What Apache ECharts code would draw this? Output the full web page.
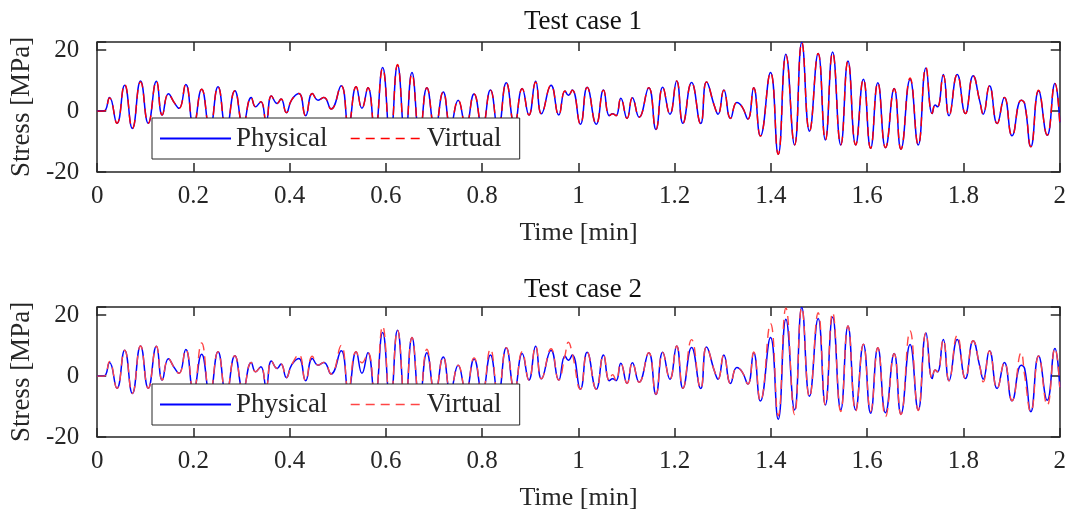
<!DOCTYPE html>
<html><head><meta charset="utf-8">
<script src="https://cdn.jsdelivr.net/npm/echarts@6/dist/echarts.min.js"></script>
<style>html,body{margin:0;padding:0;background:#fff}#c{width:1069px;height:515px}</style>
</head><body><div id="c"></div>
<script>
// Time [min] of each sample (peaks, troughs and shoulders)
const time = [0, 0.014, 0.0255, 0.041, 0.057, 0.073, 0.090, 0.106, 0.123, 0.135,
 0.148, 0.160, 0.170, 0.184, 0.200, 0.217, 0.234, 0.251, 0.268, 0.286,
 0.303, 0.320, 0.329, 0.340, 0.351, 0.362, 0.374, 0.382, 0.393, 0.404,
 0.419, 0.433, 0.447, 0.459, 0.471, 0.486, 0.507, 0.522, 0.538, 0.550,
 0.5625, 0.577, 0.593, 0.609, 0.624, 0.640, 0.654, 0.670, 0.685, 0.702,
 0.719, 0.734, 0.750, 0.766, 0.783, 0.800, 0.817, 0.833, 0.850, 0.867,
 0.883, 0.897, 0.911, 0.923, 0.943, 0.959, 0.972, 0.979, 0.987, 1.004,
 1.018, 1.037, 1.052, 1.064, 1.071, 1.078, 1.088, 1.101, 1.112, 1.126,
 1.146, 1.161, 1.175, 1.190, 1.204, 1.217, 1.235, 1.254, 1.266, 1.283,
 1.290, 1.302, 1.316, 1.329, 1.340, 1.352, 1.364, 1.378, 1.399, 1.415,
 1.431, 1.449, 1.464, 1.480, 1.498, 1.513, 1.528, 1.545, 1.560, 1.576,
 1.592, 1.607, 1.622, 1.638, 1.656, 1.670, 1.689, 1.706, 1.722, 1.735,
 1.741, 1.746, 1.758, 1.770, 1.787, 1.804, 1.820, 1.834, 1.841, 1.854,
 1.870, 1.885, 1.901, 1.920, 1.927, 1.940, 1.956, 1.974, 1.990, 2.000];

// Stress [MPa], physical measurement (same in both test cases)
const physical = [0, 0, 4.5, -4.0, 8.5, -5.7, 9.9, -4.0, 9.8, -1.3,
 5.7, 2.8, 0.9, 8.7, -5.0, 7.2, -6.0, 8.0, -6.0, 6.7,
 -4.5, 4.5, 1.4, 3.1, -3.5, 5.0, 2.5, 4.0, -0.5, 3.7,
 5.8, -1.5, 5.8, 3.6, 4.5, 0.7, 8.3, -4.5, 8.0, 0.9,
 7.7, -7.0, 14.3, -9.0, 15.1, -9.0, 12.7, -8.0, 7.7, -6.0,
 6.3, -5.0, 3.6, -5.0, 5.6, -5.5, 6.9, -6.0, 9.3, -4.5,
 7.4, -1.3, 9.8, -0.9, 8.5, -1.3, 6.6, 5.2, 6.9, -4.3,
 7.8, -4.3, 6.9, -1.5, -0.9, -1.5, 4.2, -2.4, 4.4, -2.0,
 7.7, -6.0, 7.8, -1.0, 9.9, -4.0, 9.4, -4.1, 9.6, 1.4,
 -1.0, 6.9, -2.4, 2.8, 1.4, -2.6, 7.7, -8.2, 12.7, -14.2,
 18.7, -11.1, 22.5, -6.6, 18.9, -9.5, 19.4, -11.1, 16.5, -11.1,
 10.5, -12.2, 9.3, -12.0, 7.4, -12.5, 10.4, -11.1, 14.2, -0.8,
 2.0, 1.4, 12.0, -1.5, 12.0, -0.8, 11.6, 3.1, -1.0, 8.3,
 -4.1, 4.5, -8.1, 3.6, 2.5, -11.7, 6.6, -7.9, 9.1, -3.7];

// Stress [MPa], virtual model, test case 1
const virtual1 = [0, 0, 4.3, -4.0, 8.8, -5.7, 9.6, -4.0, 9.8, -1.3,
 5.7, 2.8, 0.9, 8.9, -5.0, 7.2, -6.0, 8.0, -6.0, 6.7,
 -4.5, 4.5, 1.4, 3.1, -3.5, 5.0, 2.5, 4.0, -0.5, 3.7,
 5.8, -1.5, 5.8, 3.6, 4.5, 0.7, 8.3, -4.5, 8.0, 0.9,
 7.7, -7.0, 14.0, -9.0, 15.3, -9.0, 12.2, -8.0, 7.7, -6.0,
 6.3, -5.0, 3.6, -5.0, 5.6, -5.5, 6.9, -6.0, 9.3, -4.5,
 7.4, -1.3, 9.5, -0.9, 8.5, -1.3, 6.6, 5.2, 6.9, -4.3,
 7.8, -4.3, 6.9, -1.5, -0.9, -1.5, 4.2, -2.4, 4.4, -2.0,
 7.7, -6.0, 7.8, -1.0, 9.9, -4.0, 9.4, -4.1, 9.6, 1.4,
 -1.0, 6.9, -2.4, 2.8, 1.4, -2.6, 7.7, -8.2, 12.7, -14.2,
 18.4, -11.1, 22.6, -6.6, 18.9, -9.5, 19.2, -11.1, 16.5, -11.1,
 10.5, -12.2, 9.3, -12.0, 7.4, -12.5, 10.9, -11.1, 14.4, -0.8,
 2.0, 1.4, 11.7, -1.5, 12.0, -0.8, 11.6, 3.1, -1.0, 8.3,
 -4.1, 4.5, -8.1, 3.6, 2.5, -11.7, 6.9, -7.9, 9.1, -3.7];

// Stress [MPa], virtual model, test case 2
const virtual2 = [0, 0, 4.8, -4.0, 8.5, -5.7, 9.9, -4.0, 9.8, -1.3,
 5.7, 2.8, 0.9, 8.7, -5.0, 10.9, -6.0, 8.0, -6.0, 6.7,
 -4.5, 4.5, 1.4, 3.1, -3.5, 5.0, 2.5, 4.0, -0.5, 3.7,
 7.1, -1.5, 6.5, 3.6, 4.5, 0.7, 10.1, -4.5, 8.0, 4.4,
 7.7, -7.0, 16.4, -9.0, 15.1, -9.0, 12.7, -8.0, 8.8, -6.0,
 6.3, -5.0, 3.6, -5.0, 6.0, -5.5, 8.9, -6.0, 9.3, -4.5,
 8.0, -1.3, 9.8, -0.9, 9.0, -1.3, 6.8, 11.1, 7.5, -4.3,
 7.8, -4.3, 6.9, -1.5, 0.5, -1.5, 4.2, -2.4, 4.4, -2.0,
 7.7, -6.0, 7.8, -1.0, 9.9, -4.0, 12.0, -4.1, 9.6, 1.4,
 -1.0, 6.9, -2.4, 2.8, 1.4, -2.6, 7.9, -8.2, 17.3, -13.0,
 22.4, -12.6, 22.5, -6.9, 20.8, -9.5, 20.9, -11.6, 16.5, -11.5,
 10.5, -11.6, 9.3, -13.3, 7.4, -12.6, 14.8, -11.3, 14.2, -0.8,
 2.0, 1.4, 12.0, -1.5, 13.4, -0.8, 11.6, 3.1, -1.9, 8.3,
 -4.1, 4.5, -8.1, 7.7, 0.3, -11.7, 6.6, -9.6, 9.1, -3.7];

const titles = ['Test case 1', 'Test case 2'];
const seriesNames = ['Physical', 'Virtual'];
const xAxisName = 'Time [min]';
const yAxisName = 'Stress [MPa]';
const yTicks = [-20, 0, 20];

const FONT = 'Liberation Serif';
const INK = '#262626';
const BLUE = '#0000ff';
const REDS = ['#ff0000', '#ff4545'];
const gridTops = [42, 307];
const legendTops = [118, 384];
const titleTops = [3, 271];

const grids = [], xAxes = [], yAxes = [], series = [], legends = [], titleOpts = [];
const virtuals = [virtual1, virtual2];
const hiddenSymbol = {color: 'rgba(0,0,0,0)', borderColor: 'rgba(0,0,0,0)', borderWidth: 0, opacity: 0};

for (let g = 0; g < 2; g++) {
  grids.push({left: 96, width: 966, top: gridTops[g], height: 130, containLabel: false});
  const lineCommon = {show: true, onZero: false, lineStyle: {color: INK, width: 1.5}};
  const tickCommon = {show: true, inside: true, length: 9, lineStyle: {color: INK, width: 1.5}};
  xAxes.push({
    type: 'value', gridIndex: g, position: 'bottom', min: 0, max: 2, interval: 0.2,
    axisLine: lineCommon, axisTick: tickCommon, splitLine: {show: false},
    axisLabel: {fontFamily: FONT, fontSize: 25, color: INK, margin: 12,
      formatter: v => String(Math.round(v * 10) / 10)},
    name: xAxisName, nameLocation: 'middle', nameGap: 48,
    nameTextStyle: {fontFamily: FONT, fontSize: 26, color: INK}
  });
  xAxes.push({
    type: 'value', gridIndex: g, position: 'top', min: 0, max: 2, interval: 0.2,
    axisLine: lineCommon, axisTick: tickCommon, splitLine: {show: false},
    axisLabel: {show: false}
  });
  yAxes.push({
    type: 'value', gridIndex: g, position: 'left', min: -20, max: 22.7, interval: 20,
    axisLine: lineCommon, axisTick: tickCommon, splitLine: {show: false},
    axisLabel: {fontFamily: FONT, fontSize: 25, color: INK, margin: 18,
      formatter: v => (yTicks.indexOf(Math.round(v * 100) / 100) >= 0 ? String(v) : '')},
    name: yAxisName, nameLocation: 'middle', nameGap: 59,
    nameTextStyle: {fontFamily: FONT, fontSize: 27, color: INK}
  });
  yAxes.push({
    type: 'value', gridIndex: g, position: 'right', min: -20, max: 22.7, interval: 20,
    axisLine: lineCommon, axisTick: tickCommon, splitLine: {show: false},
    axisLabel: {show: false}
  });
  series.push({
    type: 'line', name: seriesNames[0], xAxisIndex: 2 * g, yAxisIndex: 2 * g,
    data: time.map((t, i) => [t, physical[i]]),
    smooth: 0.5, symbol: 'none', showSymbol: false, clip: true, z: 2,
    lineStyle: {color: BLUE, width: 1.5}, itemStyle: {color: BLUE}
  });
  series.push({
    type: 'line', name: seriesNames[1], xAxisIndex: 2 * g, yAxisIndex: 2 * g,
    data: time.map((t, i) => [t, virtuals[g][i]]),
    smooth: 0.5, symbol: 'none', showSymbol: false, clip: true, z: 3,
    lineStyle: {color: REDS[g], width: 1.4, type: [9, 6]}, itemStyle: {color: REDS[g]}
  });
  legends.push({
    left: 152, top: legendTops[g], orient: 'horizontal',
    backgroundColor: '#ffffff', borderColor: INK, borderWidth: 1, borderRadius: 0,
    padding: [7, 7, 7, 7], itemGap: 14, itemWidth: 71, itemHeight: 14, z: 10,
    textStyle: {fontFamily: FONT, fontSize: 27, color: INK, lineHeight: 27},
    data: [
      {name: seriesNames[0], textStyle: {width: 100}, itemStyle: hiddenSymbol,
        lineStyle: {color: BLUE, width: 2}},
      {name: seriesNames[1], textStyle: {width: 86}, itemStyle: hiddenSymbol,
        lineStyle: {color: REDS[g], width: 1.4, type: [9, 6]}}
    ]
  });
  titleOpts.push({
    text: titles[g], left: 579 - 60, top: titleTops[g],
    textStyle: {fontFamily: FONT, fontSize: 27, fontWeight: 'normal', color: '#111'}
  });
}

const chart = echarts.init(document.getElementById('c'), null, {renderer: 'canvas'});
chart.setOption({
  animation: false,
  backgroundColor: '#ffffff',
  title: titleOpts,
  grid: grids, xAxis: xAxes, yAxis: yAxes, legend: legends, series: series
});
</script></body></html>
